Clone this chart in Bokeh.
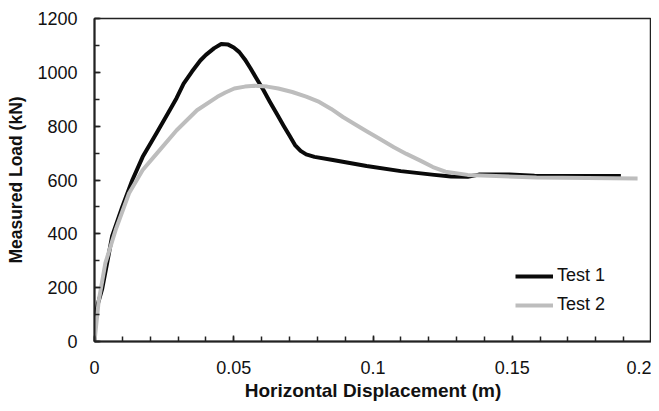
from bokeh.plotting import figure
from bokeh.models import (Range1d, FixedTicker, NumeralTickFormatter, Legend, LegendItem)
from bokeh.embed import file_html
from bokeh.resources import INLINE

# Test 1 (black)
test1_x = [0.0, 0.0003, 0.0012, 0.0027, 0.0045, 0.0063, 0.010, 0.0136, 0.0173, 0.0222,
           0.027, 0.0295, 0.032, 0.035, 0.038, 0.040, 0.043, 0.0455, 0.048, 0.050,
           0.052, 0.054, 0.056, 0.058, 0.0606, 0.063, 0.0655, 0.068, 0.070, 0.072,
           0.074, 0.076, 0.079, 0.0856, 0.0977, 0.110, 0.122,
           0.128, 0.134, 0.138, 0.149, 0.158, 0.189]
test1_y = [0, 90, 140, 193, 290, 390, 501, 600, 686, 773,
           859, 905, 958, 1003, 1044, 1065, 1090, 1105, 1103, 1092,
           1075, 1048, 1015, 980, 935, 890, 845, 800, 765, 730,
           708, 695, 686, 674, 652, 633, 619,
           613, 612, 620, 620, 616, 615]

# Test 2 (grey)
test2_x = [0.0, 0.0015, 0.0039, 0.0076, 0.0124, 0.0173, 0.0234, 0.0295, 0.0368, 0.0441,
           0.047, 0.0502, 0.054, 0.0575, 0.062, 0.066, 0.071, 0.076, 0.0807, 0.085,
           0.0892, 0.0935, 0.0977, 0.1025, 0.1075, 0.112, 0.117, 0.1215, 0.126, 0.134,
           0.1587, 0.195]
test2_y = [0, 150, 291, 415, 551, 637, 711, 785, 859, 909,
           925, 940, 947, 950, 947, 940, 927, 910, 890, 864,
           834, 807, 781, 752, 722, 697, 672, 648, 631, 619,
           609, 606]

x_ticks = [0, 0.05, 0.1, 0.15, 0.2]
y_ticks = [0, 200, 400, 600, 800, 1000, 1200]
x_minor = [round(i * 0.01, 2) for i in range(21)]
y_minor = [i * 100 for i in range(13)]

FONT = "Liberation Sans"

p = figure(width=651, height=403, output_backend="svg", toolbar_location=None,
           x_range=Range1d(0, 0.2), y_range=Range1d(0, 1200),
           min_border_left=94, min_border_top=18, min_border_right=0, min_border_bottom=55)
p.grid.visible = False
p.outline_line_color = "#222222"
p.outline_line_width = 1.5
p.background_fill_color = "white"
p.border_fill_color = "white"

r1 = p.line(test1_x, test1_y, line_color="#0a0a0a", line_width=4, line_join="round")
r2 = p.line(test2_x, test2_y, line_color="#bdbdbd", line_width=4, line_join="round")

for ax in (p.xaxis[0], p.yaxis[0]):
    ax.axis_line_color = "#222222"
    ax.axis_line_width = 2
    ax.major_tick_in = 6
    ax.major_tick_out = 0
    ax.minor_tick_in = 5
    ax.minor_tick_out = 0
    ax.major_tick_line_color = "#222222"
    ax.minor_tick_line_color = "#222222"
    ax.major_tick_line_width = 1.5
    ax.minor_tick_line_width = 1.5
    ax.major_label_text_font = FONT
    ax.major_label_text_font_size = "18px"
    ax.major_label_text_color = "#111111"
    ax.axis_label_text_font = FONT
    ax.axis_label_text_font_style = "bold"
    ax.axis_label_text_color = "#111111"

p.xaxis.ticker = FixedTicker(ticks=x_ticks, minor_ticks=x_minor)
p.xaxis.formatter = NumeralTickFormatter(format="0.[00]")
p.xaxis.axis_label = "Horizontal Displacement (m)"
p.xaxis.axis_label_text_font_size = "19px"
p.xaxis.major_label_standoff = 19
p.xaxis.axis_label_standoff = 3

p.yaxis.ticker = FixedTicker(ticks=y_ticks, minor_ticks=y_minor)
p.yaxis.axis_label = "Measured Load (kN)"
p.yaxis.axis_label_text_font_size = "17.5px"
p.yaxis.major_label_standoff = 17
p.yaxis.axis_label_standoff = 8

legend = Legend(items=[LegendItem(label="Test 1", renderers=[r1]),
                       LegendItem(label="Test 2", renderers=[r2])],
                location=(421, 26))
legend.border_line_color = None
legend.background_fill_alpha = 0
legend.padding = 0
legend.margin = 0
legend.spacing = 8
legend.glyph_width = 38
legend.glyph_height = 20
legend.label_height = 20
legend.label_standoff = 4
legend.label_text_font = FONT
legend.label_text_font_size = "18px"
legend.label_text_color = "#111111"
p.add_layout(legend)

open("out.html", "w").write(file_html(p, INLINE))
